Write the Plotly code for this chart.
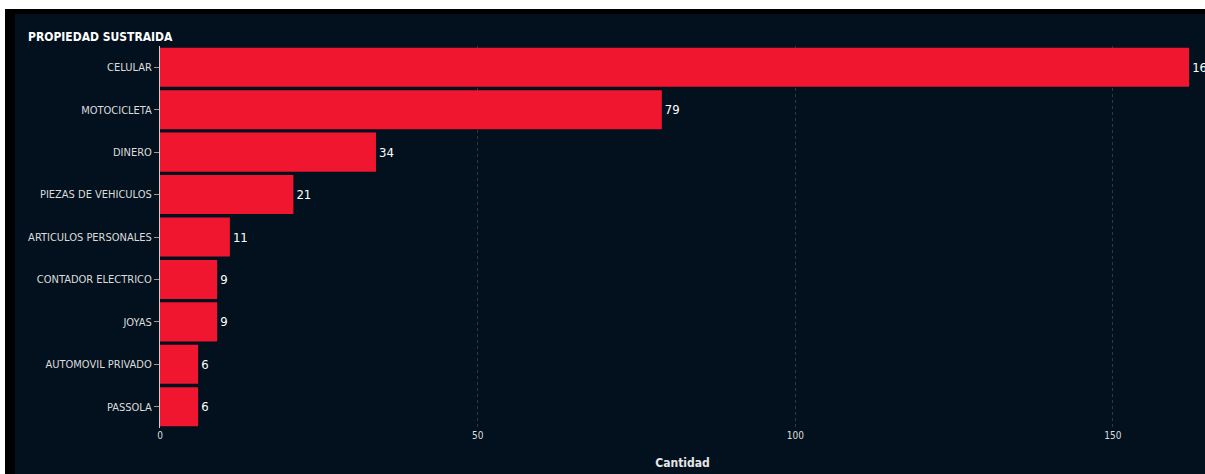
import plotly.graph_objects as go

categories = ["CELULAR", "MOTOCICLETA", "DINERO", "PIEZAS DE VEHICULOS",
              "ARTICULOS PERSONALES", "CONTADOR ELECTRICO", "JOYAS",
              "AUTOMOVIL PRIVADO", "PASSOLA"]
values = [162, 79, 34, 21, 11, 9, 9, 6, 6]
x_ticks = [0, 50, 100, 150]

NAVY = "#02111d"
RED = "#f0162f"
FONT = "Liberation Sans Narrow, Arial Narrow, DejaVu Sans Condensed, sans-serif"

W, H = 1205, 474
L, R, T, B = 160, 0, 46, 46
pw, ph = W - L - R, H - T - B

def px_x(fx):
    return (fx - L) / pw

def px_y(fy):
    return (H - B - fy) / ph

def rect(x0, y0, x1, y1, color):
    return dict(type="rect", xref="paper", yref="paper", layer="below",
                x0=px_x(x0), x1=px_x(x1), y0=px_y(y1), y1=px_y(y0),
                fillcolor=color, line=dict(width=0))

fig = go.Figure(go.Bar(
    x=values, y=categories, orientation="h",
    marker=dict(color=RED, line=dict(width=0)),
    text=values, textposition="outside", cliponaxis=False,
    textfont=dict(color="#ffffff", size=13, family=FONT),
))

fig.update_layout(
    width=W, height=H,
    margin=dict(l=L, r=R, t=T, b=B, pad=0),
    paper_bgcolor=NAVY, plot_bgcolor=NAVY,
    bargap=0.08,
    showlegend=False,
    font=dict(family=FONT, color="#dcdcdc", size=11),
    title=dict(text="<b>PROPIEDAD SUSTRAIDA</b>", x=28 / W, xanchor="left",
               y=1 - 37 / H, yanchor="middle", font=dict(size=12, color="#ffffff", family=FONT)),
    xaxis=dict(range=[0, 164.5], tickvals=x_ticks, showgrid=True,
               gridcolor="rgba(200,200,200,0.22)", griddash="dot", gridwidth=1,
               zeroline=False, showline=False, ticks="",
               tickfont=dict(size=10, color="#dcdcdc"),
               title=dict(text="<b>Cantidad</b>", font=dict(size=12, color="#e6e6e6"), standoff=18)),
    yaxis=dict(autorange="reversed", showgrid=False, zeroline=False,
               showline=True, linecolor="#cfcfcf", linewidth=1,
               ticks="outside", ticklen=5, tickcolor="#9a9a9a",
               tickfont=dict(size=11, color="#dcdcdc")),
    shapes=[
        rect(0, 0, 5, H, "#ffffff"),
        rect(0, 0, W, 9, "#ffffff"),
        rect(5, 9, 15, H, "#000000"),
        rect(5, 9, W, 14, "#000000"),
    ],
)

fig.write_html("out.html", config={"displayModeBar": False},
               post_script="document.body.style.margin='0';document.body.style.overflow='hidden';")
